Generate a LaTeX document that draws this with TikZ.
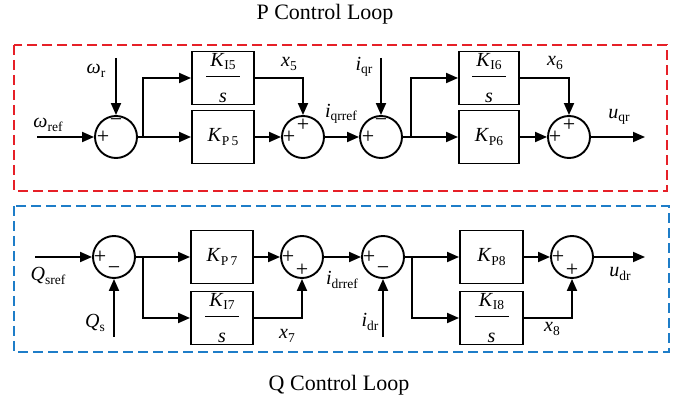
\documentclass[tikz,border=0pt]{standalone}
\usepackage{fontspec}
\setmainfont{Liberation Serif}
\usetikzlibrary{arrows.meta}

\definecolor{loopred}{RGB}{230,32,40}
\definecolor{loopblue}{RGB}{30,125,200}

% italic symbol with an upright, lowered subscript
\newcommand{\sym}[2]{\textit{#1}\raisebox{-3.5pt}{\fontsize{13.5}{14}\selectfont #2}}
% integral gain block: K over s
\newcommand{\igain}[1]{\sym{K}{#1}\\[-13pt]\rule{34pt}{1.2pt}\\[1pt]\textit{s}}

\tikzset{
  every node/.style={font=\fontsize{20}{24}\selectfont},
  gainbox/.style={draw, line width=1.9pt, minimum width=62pt, minimum height=53pt, inner sep=0pt, align=center},
  sumnode/.style={draw, circle, line width=1.9pt, minimum size=42pt, inner sep=0pt},
  sgn/.style={inner sep=0pt, font=\fontsize{22}{22}\selectfont},
  wire/.style={line width=1.8pt},
  arr/.style={line width=1.8pt, -{Triangle[length=12pt,width=10pt]}},
  loopbox/.style={line width=1.8pt, dash pattern=on 10pt off 5pt},
  title/.style={font=\fontsize{22}{24}\selectfont}
}

\begin{document}
\begin{tikzpicture}[x=1pt,y=-1pt]
\fill[white] (0,0) rectangle (683,403);
\useasboundingbox (0,0) rectangle (683,403);

% loop frames and titles
\draw[loopbox, loopred] (14,45) rectangle (667,191);
\draw[loopbox, loopblue] (14,206) rectangle (669,352);
\node[title] (ptitle) at (325,14) {P Control Loop};
\node[title] (qtitle) at (339,385) {Q Control Loop};

% ---------- P loop ----------
\coordinate (inP) at (37,137);
\coordinate (wr) at (116,58);
\coordinate (iqr) at (381,58);
\coordinate (brA) at (143,137);
\coordinate (brB) at (411,137);
\coordinate (outP) at (645,137);

\node[sumnode] (s1) at (116,137) {};
\node[gainbox] (bI5) at (223,78) {\igain{I5}};
\node[gainbox] (bP5) at (223,137) {\sym{K}{P\,5}};
\node[sumnode] (s2) at (303,137) {};
\node[sumnode] (s3) at (381,137) {};
\node[gainbox, minimum width=60pt] (bI6) at (489,78) {\igain{I6}};
\node[gainbox, minimum width=60pt] (bP6) at (489,137) {\sym{K}{P6}};
\node[sumnode] (s4) at (569,137) {};

\node[sgn] (s1a) at ([xshift=-13pt]s1.center) {+};
\node[sgn] (s1b) at ([yshift=14pt]s1.center) {−};
\node[sgn] (s2a) at ([xshift=-14pt]s2.center) {+};
\node[sgn] (s2b) at ([yshift=12pt]s2.center) {+};
\node[sgn] (s3a) at ([xshift=-13pt]s3.center) {+};
\node[sgn] (s3b) at ([yshift=14pt]s3.center) {−};
\node[sgn] (s4a) at ([xshift=-14pt]s4.center) {+};
\node[sgn] (s4b) at ([yshift=12pt]s4.center) {+};

\draw[arr] (inP) -- (s1);
\draw[arr] (wr) -- (s1.north);
\draw[wire] (s1) -- (brA);
\draw[arr] (brA) |- (bI5.west);
\draw[arr] (brA) -- (bP5);
\draw[arr] (bI5.east) -| (s2.north);
\draw[arr] (bP5) -- (s2);
\draw[arr] (s2) -- (s3);
\draw[arr] (iqr) -- (s3.north);
\draw[wire] (s3) -- (brB);
\draw[arr] (brB) |- (bI6.west);
\draw[arr] (brB) -- (bP6);
\draw[arr] (bI6.east) -| (s4.north);
\draw[arr] (bP6) -- (s4);
\draw[arr] (s4) -- (outP);

\node (lwref) at (48,125) {\sym{ω}{ref}};
\node (lwr) at (96,71) {\sym{ω}{r}};
\node (lx5) at (289,64) {\sym{x}{5}};
\node (liqrref) at (341,114) {\sym{i}{qrref}};
\node (liqr) at (364,67) {\sym{i}{qr}};
\node (lx6) at (555,63) {\sym{x}{6}};
\node (luqr) at (619,117) {\sym{u}{qr}};

% ---------- Q loop ----------
\coordinate (inQ) at (35,257);
\coordinate (qs) at (114,337);
\coordinate (idr) at (383,337);
\coordinate (brC) at (143,257);
\coordinate (brD) at (412,257);
\coordinate (outQ) at (645,257);

\node[sumnode] (t1) at (114,257) {};
\node[gainbox] (bP7) at (222,257) {\sym{K}{P\,7}};
\node[gainbox] (bI7) at (222,318) {\igain{I7}};
\node[sumnode] (t2) at (302,257) {};
\node[sumnode] (t3) at (383,257) {};
\node[gainbox, minimum width=63pt] (bP8) at (491.5,257) {\sym{K}{P8}};
\node[gainbox, minimum width=63pt] (bI8) at (491.5,318) {\igain{I8}};
\node[sumnode] (t4) at (572,257) {};

\node[sgn] (t1a) at ([xshift=-14pt]t1.center) {+};
\node[sgn] (t1b) at ([yshift=-14pt]t1.center) {−};
\node[sgn] (t2a) at ([xshift=-14pt]t2.center) {+};
\node[sgn] (t2b) at ([yshift=-13pt]t2.center) {+};
\node[sgn] (t3a) at ([xshift=-14pt]t3.center) {+};
\node[sgn] (t3b) at ([yshift=-14pt]t3.center) {−};
\node[sgn] (t4a) at ([xshift=-14pt]t4.center) {+};
\node[sgn] (t4b) at ([yshift=-13pt]t4.center) {+};

\draw[arr] (inQ) -- (t1);
\draw[arr] (qs) -- (t1.south);
\draw[wire] (t1) -- (brC);
\draw[arr] (brC) -- (bP7);
\draw[arr] (brC) |- (bI7.west);
\draw[arr] (bP7) -- (t2);
\draw[arr] (bI7.east) -| (t2.south);
\draw[arr] (t2) -- (t3);
\draw[arr] (idr) -- (t3.south);
\draw[wire] (t3) -- (brD);
\draw[arr] (brD) -- (bP8);
\draw[arr] (brD) |- (bI8.west);
\draw[arr] (bP8) -- (t4);
\draw[arr] (bI8.east) -| (t4.south);
\draw[arr] (t4) -- (outQ);

\node (lqsref) at (48,276) {\sym{Q}{sref}};
\node (lqs) at (95,323) {\sym{Q}{s}};
\node (lx7) at (287,336) {\sym{x}{7}};
\node (lidrref) at (342,280) {\sym{i}{drref}};
\node (lidr) at (370,322) {\sym{i}{dr}};
\node (lx8) at (552,329) {\sym{x}{8}};
\node (ludr) at (620,274) {\sym{u}{dr}};
\end{tikzpicture}
\end{document}
